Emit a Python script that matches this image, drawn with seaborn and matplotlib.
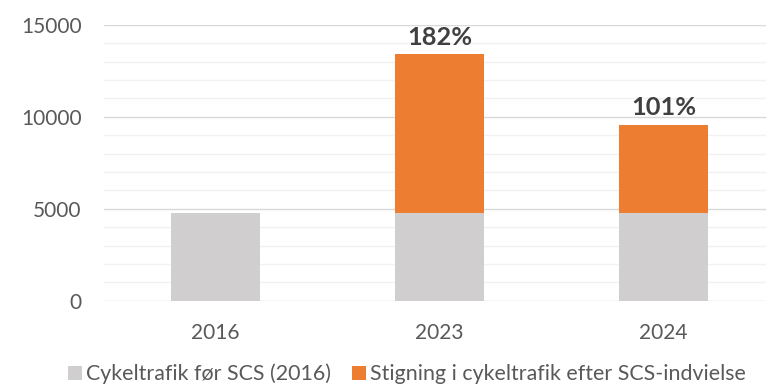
import matplotlib
matplotlib.use("Agg")
import matplotlib.pyplot as plt
from matplotlib.patches import Patch
from matplotlib.ticker import MultipleLocator
import numpy as np
import seaborn as sns

# Cycle traffic before and after the cycle superhighway (SCS) opened
years = ["2016", "2023", "2024"]
base_traffic = [4750, 4750, 4750]          # traffic level in 2016
increase_pct = [0, 182, 101]               # growth relative to 2016
pct_labels = ["", "182%", "101%"]
series_names = ["Cykeltrafik før SCS (2016)",
                "Stigning i cykeltrafik efter SCS-indvielse"]

base = np.array(base_traffic, dtype=float)
increase = base * np.array(increase_pct) / 100.0
totals = base + increase

GREY = "#D0CECE"
ORANGE = "#ED7D31"
TEXT = "#595959"

sns.set_theme(style="white")
plt.rcParams["font.family"] = ["Lato", "DejaVu Sans"]

W, H = 766, 385
fig = plt.figure(figsize=(W / 100, H / 100), dpi=100)
ax = fig.add_axes([104 / W, 1 - 300.7 / H, 662 / W, 276 / H])

# Stacked bars: full height in orange, the 2016 baseline in grey on top
sns.barplot(x=years, y=totals, color=ORANGE, saturation=1, width=0.4,
            errorbar=None, ax=ax, zorder=3, linewidth=0)
sns.barplot(x=years, y=base, color=GREY, saturation=1, width=0.4,
            errorbar=None, ax=ax, zorder=3, linewidth=0)

ax.set_ylim(0, 15000)
ax.set_xlim(-0.498, -0.498 + 662 / 224)
ax.yaxis.set_major_locator(MultipleLocator(5000))
ax.yaxis.set_minor_locator(MultipleLocator(1000))
ax.grid(axis="y", which="major", color="#D9D9D9", linewidth=1.0, zorder=0)
ax.grid(axis="y", which="minor", color="#F2F2F2", linewidth=1.0, zorder=0)
ax.grid(axis="x", visible=False)
ax.set_axisbelow(True)
for s in ax.spines.values():
    s.set_visible(False)

ax.tick_params(axis="both", which="both", length=0, labelsize=15,
               labelcolor=TEXT)
ax.tick_params(axis="y", pad=16)
ax.tick_params(axis="x", pad=16)
ax.set_xlabel("")
ax.set_ylabel("")

for i, lab in enumerate(pct_labels):
    if lab:
        ax.annotate(lab, (i, totals[i]), xytext=(0, 4),
                    textcoords="offset points", ha="center", va="bottom",
                    fontsize=18.3, fontweight="bold", color="#404040")

handles = [Patch(facecolor=GREY, edgecolor="none"),
           Patch(facecolor=ORANGE, edgecolor="none")]
fig.legend(handles, series_names, loc="center", ncol=2,
           bbox_to_anchor=(407 / W, 1 - 374 / H), frameon=False,
           fontsize=15.4, labelcolor=TEXT, handlelength=0.65,
           handleheight=0.65, handletextpad=0.18, columnspacing=1.0,
           borderpad=0, borderaxespad=0)

fig.savefig("out.png", dpi=100)
